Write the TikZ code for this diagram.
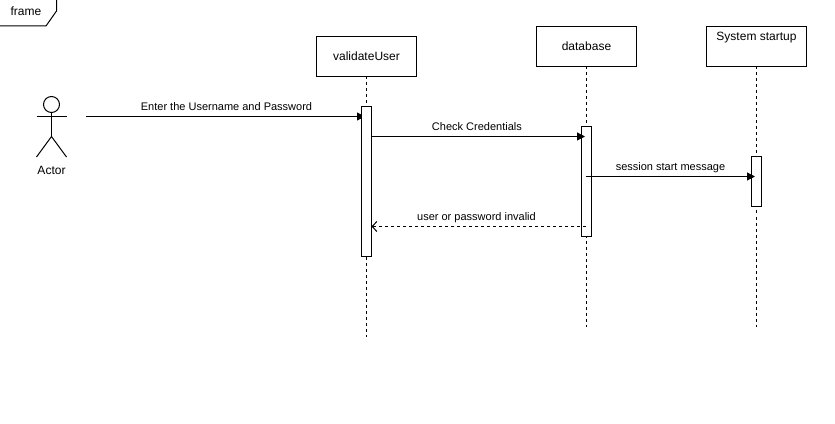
\documentclass[tikz,border=0pt]{standalone}
\usepackage{fontspec}
\setmainfont{Liberation Sans}
\usetikzlibrary{positioning,arrows.meta}
\tikzset{
	lifehead/.style={draw,line width=0.75pt,fill=white,minimum width=75pt,minimum height=30pt,inner sep=0pt,outer sep=0pt,font=\fontsize{9}{11}\selectfont},
	lifeline/.style={line width=0.75pt,dash pattern=on 2.25pt off 2.25pt},
	activation/.style={draw,line width=0.75pt,fill=white,minimum width=7.5pt,inner sep=0pt,outer sep=0pt},
	message/.style={line width=0.75pt,-{Triangle[length=6pt,width=6pt]}},
	reply/.style={line width=0.75pt,dash pattern=on 2.25pt off 2.25pt,-{Straight Barb[length=3.5pt,width=7.5pt]}},
	msglabel/.style={font=\fontsize{8.25}{10}\selectfont,inner sep=0pt,text depth=1.75pt,above=2.6pt},
	plaintext/.style={font=\fontsize{9}{11}\selectfont,inner sep=0pt},
}
\begin{document}
\begin{tikzpicture}[x=0.75pt,y=-0.75pt]
	\useasboundingbox (0,0) rectangle (835,424);
	% Frame tag
	\node[plaintext] (frameLabel) at (26,11) {frame};
	\draw[line width=0.75pt] (56.5,0) -- (56.5,11) -- (46,26) -- (0,26);
	% Actor
	\node[draw,circle,line width=0.75pt,minimum size=12pt,inner sep=0pt,outer sep=0pt] (actorHead) at (51.5,104.5) {};
	\coordinate (actorArmL) at (36.5,116.5);
	\coordinate (actorArmR) at (66.5,116.5);
	\coordinate (actorHip) at (51.5,136.5);
	\coordinate (actorFootL) at (36.5,157);
	\coordinate (actorFootR) at (66.5,157);
	\draw[line width=0.75pt] (actorHead) -- (actorHip);
	\draw[line width=0.75pt] (actorArmL) -- (actorArmR);
	\draw[line width=0.75pt] (actorFootL) -- (actorHip) -- (actorFootR);
	\node[plaintext] (actorLabel) at (51.5,170) {Actor};
	% Lifeline heads
	\node[lifehead] (validate) at (366.5,56.5) {validateUser};
	\node[lifehead,right=90pt of validate,yshift=7.5pt] (database) {database};
	\node[lifehead,right=52.5pt of database] (startup) {};
	\node[plaintext] (startupLabel) at (756.5,38) {System startup};
	% Lifeline ends
	\coordinate[below=195.2pt of validate] (validateEnd);
	\coordinate[below=195.2pt of database] (databaseEnd);
	\coordinate[below=195.2pt of startup] (startupEnd);
	\draw[lifeline] (validate) -- (validateEnd);
	\draw[lifeline] (database) -- (databaseEnd);
	\draw[lifeline] (startup) -- (startupEnd);
	% Message ending behind the bar
	\coordinate (enterStart) at (86,116.5);
	\coordinate (enterEnd) at (365,116.5);
	\draw[message] (enterStart) -- (enterEnd) node[midway,msglabel,xshift=0.75pt] {Enter the Username and Password};
	% Activation bars
	\node[activation,below=22.5pt of validate,minimum height=112.5pt] (validateBar) {};
	\node[activation,below=45pt of database,minimum height=82.5pt] (databaseBar) {};
	\node[activation,below=67.5pt of startup,minimum height=37.5pt] (startupBar) {};
	% Messages
	\coordinate (checkStart) at (validateBar.east |- 0,136.5);
	\coordinate (checkEnd) at (585,136.5);
	\draw[message] (checkStart) -- (checkEnd) node[midway,msglabel,xshift=-1pt] {Check Credentials};
	\coordinate (sessionStart) at (586,176.5);
	\coordinate (sessionEnd) at (755,176.5);
	\draw[message] (sessionStart) -- (sessionEnd) node[midway,msglabel] {session start message};
	\coordinate (invalidStart) at (586,226.5);
	\coordinate (invalidEnd) at (validateBar.east |- 0,226.5);
	\draw[reply] (invalidStart) -- (invalidEnd) node[midway,msglabel,xshift=-1.7pt] {user or password invalid};
\end{tikzpicture}
\end{document}
